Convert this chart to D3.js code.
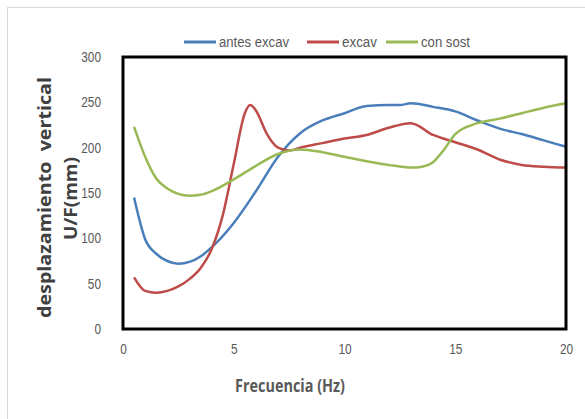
<!DOCTYPE html>
<html>
<head>
<meta charset="utf-8">
<script src="https://cdn.jsdelivr.net/npm/d3@7"></script>
<style>
  body { margin: 0; background: #fff; }
  svg { display: block; }
  .tick text { font-family: "Liberation Sans", sans-serif; font-size: 14px; fill: #595959; }
</style>
</head>
<body>
<div id="chart-area"><svg></svg></div>
<script>
const chartSize = { width: 585, height: 419 };
const margin = { left: 123, right: 19, top: 57, bottom: 90 };
const width = chartSize.width - margin.left - margin.right;
const height = chartSize.height - margin.top - margin.bottom;

// frequency (Hz) at which each curve was read
const freqAntes = [0.5, 1, 1.5, 2, 2.5, 3, 3.5, 4, 5, 6, 7, 8, 9, 10, 11, 12, 12.5, 13, 14, 15, 16, 17, 18, 19, 20];
const antesExcav = [145, 99, 83, 75, 72, 74, 80, 90, 117, 152, 190, 216, 230, 238, 246, 247, 247, 249, 245, 240, 230, 221, 215, 208, 201];

const freqExcav = [0.5, 1, 1.5, 2, 2.5, 3, 3.5, 4, 4.5, 5, 5.5, 5.75, 6, 6.5, 7, 7.5, 8, 9, 10, 11, 12, 13, 14, 15, 16, 17, 18, 19, 20];
const excav = [57, 42, 40, 42, 47, 55, 67, 88, 125, 182, 238, 247, 241, 215, 200, 197, 200, 205, 210, 214, 222, 227, 214, 206, 198, 187, 181, 179, 178];

const freqSost = [0.5, 1, 1.5, 2, 2.5, 3, 3.5, 4, 5, 6, 7, 8, 9, 10, 11, 12, 13, 13.5, 14, 14.5, 15, 16, 17, 18, 19, 20];
const conSost = [223, 190, 166, 155, 149, 147, 148, 152, 165, 180, 193, 198, 195, 190, 185, 181, 178, 179, 184, 198, 215, 227, 232, 238, 244, 249];

const seriesNames = ["antes excav", "excav", "con sost"];
const colours = ["#4A7EBB", "#BE4B48", "#98B954"];
const xTicks = [0, 5, 10, 15, 20];
const yTicks = [0, 50, 100, 150, 200, 250, 300];

const series = [
  { name: seriesNames[0], xs: freqAntes, ys: antesExcav },
  { name: seriesNames[1], xs: freqExcav, ys: excav },
  { name: seriesNames[2], xs: freqSost, ys: conSost }
];

const svg = d3.select("#chart-area svg")
  .attr("width", chartSize.width)
  .attr("height", chartSize.height);

// outer chart frame (cut by the picture edge)
svg.append("rect")
  .attr("x", 7.5).attr("y", 7.5)
  .attr("width", 600).attr("height", 430)
  .attr("fill", "#fff")
  .attr("stroke", "#d9d9d9");

const g = svg.append("g")
  .attr("transform", `translate(${margin.left},${margin.top})`);

const x = d3.scaleLinear().domain([0, 20]).range([0, width]);
const y = d3.scaleLinear().domain([0, 300]).range([height, 0]);

const yAxis = g.append("g")
  .call(d3.axisLeft(y).tickValues(yTicks).tickSize(0).tickPadding(22));
yAxis.select(".domain").remove();

const xAxis = g.append("g")
  .attr("transform", `translate(0,${height})`)
  .call(d3.axisBottom(x).tickValues(xTicks).tickSize(0).tickPadding(15));
xAxis.select(".domain").remove();

// narrow the digits a bit, like the condensed font of the original
g.selectAll(".tick text")
  .attr("textLength", d => String(d).length * 6.6)
  .attr("lengthAdjust", "spacingAndGlyphs");

const line = d3.line()
  .x(d => x(d[0]))
  .y(d => y(d[1]))
  .curve(d3.curveMonotoneX);

g.selectAll(".series")
  .data(series)
  .enter()
  .append("path")
  .attr("class", "series")
  .attr("fill", "none")
  .attr("stroke", (d, i) => colours[i])
  .attr("stroke-width", 2.5)
  .attr("stroke-linejoin", "round")
  .attr("d", d => line(d.xs.map((f, i) => [f, d.ys[i]])));

// plot box
g.append("rect")
  .attr("x", 0).attr("y", 0)
  .attr("width", width).attr("height", height)
  .attr("fill", "none")
  .attr("stroke", "#000")
  .attr("stroke-width", 3);

// legend
const legendX = [184, 307, 386];
const legendLen = [70, 35, 49];
const legend = svg.selectAll(".legend")
  .data(seriesNames)
  .enter()
  .append("g")
  .attr("class", "legend")
  .attr("transform", (d, i) => `translate(${legendX[i]},42)`);
legend.append("line")
  .attr("x1", 0).attr("x2", 32)
  .attr("stroke", (d, i) => colours[i])
  .attr("stroke-width", 3);
legend.append("text")
  .attr("x", 35).attr("y", 5)
  .attr("font-family", "Liberation Sans, sans-serif")
  .attr("font-size", 14)
  .attr("fill", "#595959")
  .attr("textLength", (d, i) => legendLen[i])
  .attr("lengthAdjust", "spacingAndGlyphs")
  .text(d => d);

// axis titles
svg.append("text")
  .attr("x", 235).attr("y", 392)
  .attr("font-family", "Open Sans, sans-serif")
  .attr("font-weight", "bold")
  .attr("font-size", 18)
  .attr("fill", "#595959")
  .attr("textLength", 110)
  .attr("lengthAdjust", "spacingAndGlyphs")
  .text("Frecuencia (Hz)");

svg.append("text")
  .attr("transform", "translate(51,318) rotate(-90)")
  .attr("font-family", "Open Sans, sans-serif")
  .attr("font-weight", "bold")
  .attr("font-size", 17)
  .attr("fill", "#404040")
  .attr("xml:space", "preserve")
  .style("white-space", "pre")
  .attr("textLength", 241)
  .attr("lengthAdjust", "spacingAndGlyphs")
  .text("desplazamiento  vertical");

svg.append("text")
  .attr("transform", "translate(77,240) rotate(-90)")
  .attr("font-family", "Open Sans, sans-serif")
  .attr("font-weight", "bold")
  .attr("font-size", 17)
  .attr("fill", "#404040")
  .attr("textLength", 83)
  .attr("lengthAdjust", "spacingAndGlyphs")
  .text("U/F(mm)");
</script>
</body>
</html>
